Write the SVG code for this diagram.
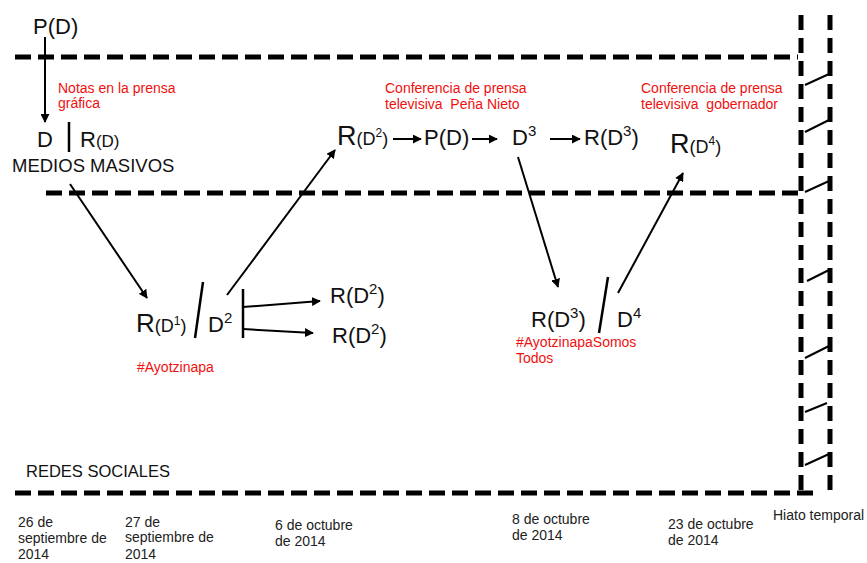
<svg xmlns="http://www.w3.org/2000/svg" width="867" height="563" viewBox="0 0 867 563">
<defs>
<marker id="ah" viewBox="0 0 10 10" refX="9" refY="5" markerWidth="4.5" markerHeight="4.5" orient="auto" markerUnits="strokeWidth">
<path d="M0,0 L10,5 L0,10 z" fill="#000"/>
</marker>
<style>
.dash{stroke:#000;stroke-width:5;stroke-dasharray:16 7;fill:none}
.vdash{stroke:#000;stroke-width:5;stroke-dasharray:15 8;fill:none}
.hz{stroke:#000;stroke-width:2;fill:none}
.arr{stroke:#000;stroke-width:2;fill:none;marker-end:url(#ah)}
.bar{stroke:#000;stroke-width:2.5;fill:none}
.t{font-family:"Liberation Sans",Arial,sans-serif;fill:#111}
.red{font-family:"Liberation Sans",Arial,sans-serif;fill:#f01010;font-size:14px}
.lbl{font-family:"Liberation Sans",Arial,sans-serif;fill:#111}
.date{font-family:"Liberation Sans",Arial,sans-serif;fill:#222;font-size:14px}
</style>
</defs>

<g id="frame">
<line class="dash" x1="15" y1="57" x2="798" y2="57"/>
<line class="dash" x1="46" y1="193" x2="801" y2="193"/>
<line class="dash" x1="15" y1="493" x2="820" y2="493"/>
<line class="vdash" x1="801" y1="15" x2="801" y2="495"/>
<line class="vdash" x1="830" y1="15" x2="830" y2="497"/>
<g id="hiato">
<line class="hz" x1="805" y1="85" x2="829" y2="74"/>
<line class="hz" x1="805" y1="132" x2="829" y2="120"/>
<line class="hz" x1="805" y1="192" x2="829" y2="181"/>
<line class="hz" x1="807" y1="281" x2="829" y2="270"/>
<line class="hz" x1="805" y1="358" x2="829" y2="346"/>
<line class="hz" x1="805" y1="412" x2="827" y2="403"/>
<line class="hz" x1="805" y1="465" x2="829" y2="454"/>
</g>
</g>

<g id="connectors">
<line class="arr" x1="45" y1="37" x2="45" y2="122"/>
<line class="arr" x1="70" y1="184" x2="147" y2="298"/>
<line class="arr" x1="227" y1="295" x2="335" y2="150"/>
<line class="arr" x1="243" y1="307" x2="320" y2="301"/>
<line class="arr" x1="243" y1="329" x2="313" y2="333"/>
<line class="arr" x1="393" y1="139" x2="421" y2="139"/>
<line class="arr" x1="472" y1="139" x2="497" y2="139"/>
<line class="arr" x1="550" y1="139" x2="580" y2="139"/>
<line class="arr" x1="518" y1="157" x2="558" y2="287"/>
<line class="arr" x1="618" y1="293" x2="683" y2="173"/>
<line class="bar" x1="69" y1="122" x2="69" y2="152"/>
<line class="bar" x1="203" y1="282" x2="195" y2="338"/>
<line class="bar" x1="243" y1="289" x2="243" y2="338"/>
<line class="bar" x1="608" y1="277" x2="599" y2="333"/>
</g>

<g id="n-pd-top"><text class="t" x="33" y="34" font-size="22">P(D)</text></g>
<g id="n-notas"><text class="red" x="58" y="93">Notas en la prensa</text><text class="red" x="58" y="108">gráfica</text></g>
<g id="n-d"><text class="t" x="37" y="147" font-size="22">D</text></g>
<g id="n-rd"><text class="t" x="80" y="147" font-size="22">R<tspan font-size="17">(D)</tspan></text></g>
<g id="n-medios"><text class="lbl" x="12" y="172" font-size="18.5">MEDIOS MASIVOS</text></g>

<g id="n-rd1"><text class="t" x="136" y="332" font-size="26">R<tspan font-size="18">(D</tspan><tspan font-size="12" dy="-7">1</tspan><tspan font-size="18" dy="7">)</tspan></text></g>
<g id="n-d2"><text class="t" x="208" y="332" font-size="22">D<tspan font-size="15" dy="-9">2</tspan></text></g>
<g id="n-rd2a"><text class="t" x="330" y="303" font-size="22">R(D<tspan font-size="15" dy="-9">2</tspan><tspan dy="9">)</tspan></text></g>
<g id="n-rd2b"><text class="t" x="332" y="343" font-size="22">R(D<tspan font-size="15" dy="-9">2</tspan><tspan dy="9">)</tspan></text></g>
<g id="n-ayo"><text class="red" x="137" y="372">#Ayotzinapa</text></g>

<g id="n-conf1"><text class="red" x="385" y="93">Conferencia de prensa</text><text class="red" x="385" y="109" xml:space="preserve">televisiva  Peña Nieto</text></g>
<g id="n-rd2top"><text class="t" x="337" y="145" font-size="27">R<tspan font-size="18">(D</tspan><tspan font-size="12" dy="-8">2</tspan><tspan font-size="18" dy="8">)</tspan></text></g>
<g id="n-pd"><text class="t" x="424" y="145" font-size="22">P(D)</text></g>
<g id="n-d3"><text class="t" x="512" y="145" font-size="22">D<tspan font-size="15" dy="-9">3</tspan></text></g>
<g id="n-rd3top"><text class="t" x="584" y="145" font-size="22">R(D<tspan font-size="15" dy="-9">3</tspan><tspan dy="9">)</tspan></text></g>

<g id="n-conf2"><text class="red" x="641" y="93">Conferencia de prensa</text><text class="red" x="641" y="109" xml:space="preserve">televisiva  gobernador</text></g>
<g id="n-rd4"><text class="t" x="670" y="153" font-size="27">R<tspan font-size="18">(D</tspan><tspan font-size="12" dy="-8">4</tspan><tspan font-size="18" dy="8">)</tspan></text></g>

<g id="n-rd3"><text class="t" x="531" y="327" font-size="22">R(D<tspan font-size="15" dy="-9">3</tspan><tspan dy="9">)</tspan></text></g>
<g id="n-d4"><text class="t" x="617" y="327" font-size="22">D<tspan font-size="15" dy="-9">4</tspan></text></g>
<g id="n-ayo2"><text class="red" x="516" y="347">#AyotzinapaSomos</text><text class="red" x="516" y="363">Todos</text></g>

<g id="n-redes"><text class="lbl" x="26" y="477" font-size="16.5">REDES SOCIALES</text></g>

<g id="dates">
<text class="date" x="18" y="527">26 de</text>
<text class="date" x="18" y="543">septiembre de</text>
<text class="date" x="18" y="559">2014</text>
<text class="date" x="125" y="527" font-size="13.5">27 de</text>
<text class="date" x="125" y="542" font-size="13.5">septiembre de</text>
<text class="date" x="125" y="559" font-size="13.5">2014</text>
<text class="date" x="275" y="530">6 de octubre</text>
<text class="date" x="275" y="546">de 2014</text>
<text class="date" x="512" y="524">8 de octubre</text>
<text class="date" x="512" y="540">de 2014</text>
<text class="date" x="668" y="529">23 de octubre</text>
<text class="date" x="668" y="545">de 2014</text>
<text class="date" x="773" y="520">Hiato temporal</text>
</g>
</svg>
